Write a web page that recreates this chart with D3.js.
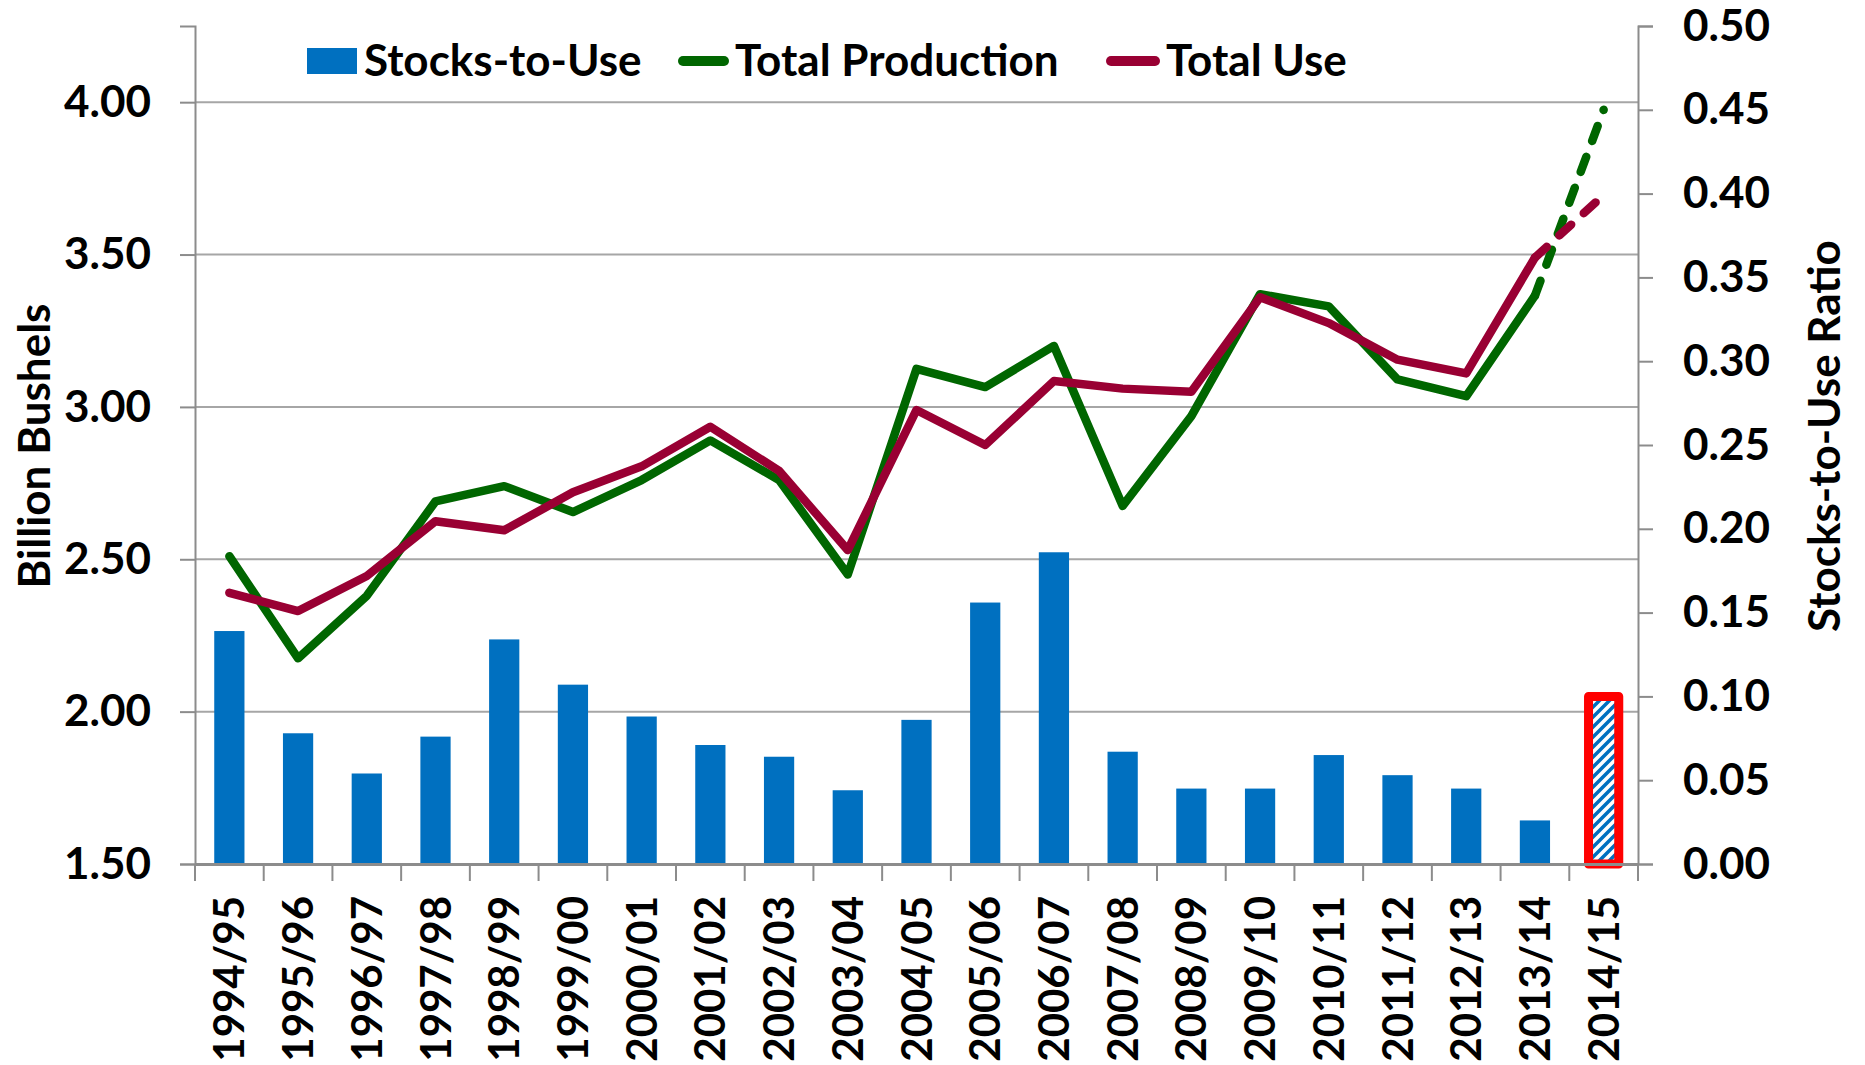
<!DOCTYPE html>
<html>
<head>
<meta charset="utf-8">
<script src="https://cdn.jsdelivr.net/npm/d3@7"></script>
<style>
    body { margin: 0; background: #fff; overflow: hidden; }
    text { font-family: Lato, "Open Sans", sans-serif; font-weight: bold; fill: #000; }
</style>
</head>
<body>
<div id="ChartSection"></div>
<script>

var years = ["1994/95", "1995/96", "1996/97", "1997/98", "1998/99", "1999/00", "2000/01",
    "2001/02", "2002/03", "2003/04", "2004/05", "2005/06", "2006/07", "2007/08",
    "2008/09", "2009/10", "2010/11", "2011/12", "2012/13", "2013/14", "2014/15"];

// stocks-to-use ratio (right axis)
var stocksToUse = [0.139, 0.078, 0.054, 0.076, 0.134, 0.107, 0.088, 0.071, 0.064, 0.044, 0.086,
    0.156, 0.186, 0.067, 0.045, 0.045, 0.065, 0.053, 0.045, 0.026, 0.100];

// billion bushels (left axis)
var totalProduction = [2.51, 2.175, 2.38, 2.69, 2.74, 2.655, 2.76, 2.89, 2.76, 2.45, 3.125,
    3.065, 3.2, 2.675, 2.97, 3.37, 3.33, 3.09, 3.035, 3.365, 3.975];
var totalUse = [2.39, 2.33, 2.445, 2.625, 2.595, 2.72, 2.805, 2.935, 2.79, 2.53, 2.99,
    2.875, 3.085, 3.06, 3.05, 3.36, 3.275, 3.155, 3.11, 3.49, 3.695];

var leftTicks = [1.5, 2.0, 2.5, 3.0, 3.5, 4.0];
var rightTicks = [0, 0.05, 0.10, 0.15, 0.20, 0.25, 0.30, 0.35, 0.40, 0.45, 0.50];

var legendItems = ["Stocks-to-Use", "Total Production", "Total Use"];

// set the Properties for the appearance of the graph
var width = 1865,
    height = 1065,
    plotLeft = 195,
    plotRight = 1638,
    plotTop = 26,
    plotBottom = 864;

var barColor = "#0070C0",
    prodColor = "#006600",
    useColor = "#990033",
    gridColor = "#A6A6A6",
    axisColor = "#8C8C8C";

var x = d3.scaleBand().domain(years).range([plotLeft, plotRight]);
var yLeft = d3.scaleLinear().domain([1.5, 4.25]).range([plotBottom, plotTop]);
var yRight = d3.scaleLinear().domain([0, 0.5]).range([plotBottom, plotTop]);

var svg = d3.select("#ChartSection").append("svg")
    .attr("width", width)
    .attr("height", height)
    .style("display", "block");

// hatch pattern for the projected bar
var pattern = svg.append("defs").append("pattern")
    .attr("id", "hatch")
    .attr("patternUnits", "userSpaceOnUse")
    .attr("width", 10)
    .attr("height", 10);
pattern.append("rect").attr("width", 10).attr("height", 10).attr("fill", "#fff");
pattern.append("path")
    .attr("d", "M-3,3 l6,-6 M0,10 l10,-10 M7,13 l6,-6")
    .attr("stroke", barColor)
    .attr("stroke-width", 3.5);

// gridlines
svg.append("g").selectAll("line")
    .data(leftTicks.slice(1))
    .enter().append("line")
    .attr("x1", plotLeft).attr("x2", plotRight)
    .attr("y1", function (d) { return yLeft(d); })
    .attr("y2", function (d) { return yLeft(d); })
    .attr("stroke", gridColor)
    .attr("stroke-width", 2);

// bars
var barW = x.bandwidth() * 0.44;
var last = years.length - 1;
svg.append("g").selectAll("rect")
    .data(stocksToUse)
    .enter().append("rect")
    .attr("x", function (d, i) { return x(years[i]) + (x.bandwidth() - barW) / 2; })
    .attr("y", function (d) { return yRight(d); })
    .attr("width", barW)
    .attr("height", function (d) { return yRight(0) - yRight(d); })
    .attr("fill", function (d, i) { return i === last ? "url(#hatch)" : barColor; })
    .attr("stroke", function (d, i) { return i === last ? "#FF0000" : "none"; })
    .attr("stroke-width", 9)
    .attr("stroke-linejoin", "round");

// left axis
var leftAxis = svg.append("g")
    .attr("transform", "translate(" + plotLeft + ",0)")
    .call(d3.axisLeft(yLeft).tickValues(leftTicks).tickSize(15).tickPadding(29).tickFormat(d3.format(".2f")));
leftAxis.selectAll("text").style("font-size", "44px");

// right axis
var rightAxis = svg.append("g")
    .attr("transform", "translate(" + plotRight + ",0)")
    .call(d3.axisRight(yRight).tickValues(rightTicks).tickSize(15).tickPadding(30).tickFormat(d3.format(".2f")));
rightAxis.selectAll("text").style("font-size", "44px");

svg.selectAll(".domain, .tick line")
    .attr("stroke", axisColor)
    .attr("stroke-width", 2);

// category axis: line, boundary ticks, rotated labels
var xAxis = svg.append("g")
    .attr("transform", "translate(0," + plotBottom + ")")
    .call(d3.axisBottom(x).tickSize(0).tickPadding(0));
xAxis.select(".domain").attr("stroke", axisColor).attr("stroke-width", 3);
xAxis.selectAll("text")
    .style("font-size", "42px")
    .attr("transform", "rotate(-90)")
    .attr("text-anchor", "end")
    .attr("x", -32)
    .attr("y", 0)
    .attr("dy", "0.36em");
xAxis.append("g").selectAll("line")
    .data(years.concat([null]))
    .enter().append("line")
    .attr("x1", function (d) { return d === null ? plotRight : x(d); })
    .attr("x2", function (d) { return d === null ? plotRight : x(d); })
    .attr("y1", 0)
    .attr("y2", 17)
    .attr("stroke", axisColor)
    .attr("stroke-width", 2);

// lines: solid through 2013/14, dashed for the projection
function drawLine(values, color) {
    var line = d3.line()
        .x(function (d) { return x(d.year) + x.bandwidth() / 2; })
        .y(function (d) { return yLeft(d.value); });
    var pts = values.map(function (v, i) { return { year: years[i], value: v }; });

    svg.append("path")
        .attr("d", line(pts.slice(0, last)))
        .attr("fill", "none")
        .attr("stroke", color)
        .attr("stroke-width", 8.5)
        .attr("stroke-linejoin", "round")
        .attr("stroke-linecap", "round");

    svg.append("path")
        .attr("d", line(pts.slice(last - 1)))
        .attr("fill", "none")
        .attr("stroke", color)
        .attr("stroke-width", 8.5)
        .attr("stroke-dasharray", "16,17")
        .attr("stroke-linecap", "round");
}
drawLine(totalProduction, prodColor);
drawLine(totalUse, useColor);

// axis titles
svg.append("text")
    .attr("transform", "translate(50,446) rotate(-90)")
    .attr("text-anchor", "middle")
    .style("font-size", "44px")
    .text("Billion Bushels");

svg.append("text")
    .attr("transform", "translate(1840,436) rotate(-90)")
    .attr("text-anchor", "middle")
    .style("font-size", "44px")
    .text("Stocks-to-Use Ratio");

// legend
var legend = svg.append("g");
legend.append("rect")
    .attr("x", 307).attr("y", 48)
    .attr("width", 50).attr("height", 26)
    .attr("fill", barColor);
legend.append("line")
    .attr("x1", 683).attr("x2", 724).attr("y1", 61).attr("y2", 61)
    .attr("stroke", prodColor).attr("stroke-width", 10).attr("stroke-linecap", "round");
legend.append("line")
    .attr("x1", 1111).attr("x2", 1155).attr("y1", 61).attr("y2", 61)
    .attr("stroke", useColor).attr("stroke-width", 10).attr("stroke-linecap", "round");

var legendX = [364, 735, 1166];
legend.selectAll("text")
    .data(legendItems)
    .enter().append("text")
    .attr("x", function (d, i) { return legendX[i]; })
    .attr("y", 76)
    .style("font-size", "44px")
    .text(function (d) { return d; });

</script>
</body>
</html>
